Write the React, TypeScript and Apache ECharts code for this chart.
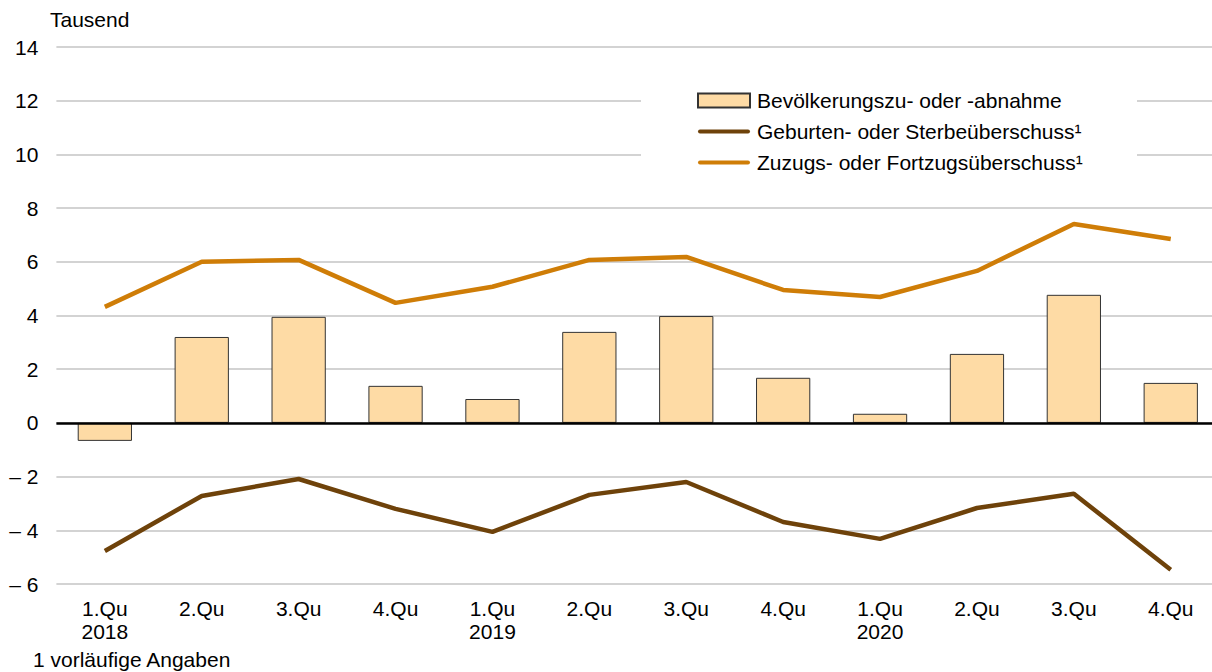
import React, { useEffect, useRef } from "react";
import * as echarts from "echarts";

const categories = [
  "1.Qu\n2018", "2.Qu", "3.Qu", "4.Qu",
  "1.Qu\n2019", "2.Qu", "3.Qu", "4.Qu",
  "1.Qu\n2020", "2.Qu", "3.Qu", "4.Qu",
];
const changeValues = [-0.67, 3.2, 3.95, 1.38, 0.89, 3.39, 3.98, 1.68, 0.34, 2.57, 4.77, 1.49];
const naturalValues = [-4.77, -2.72, -2.09, -3.2, -4.06, -2.68, -2.2, -3.69, -4.32, -3.17, -2.64, -5.47];
const migrationValues = [4.32, 6.0, 6.07, 4.47, 5.07, 6.07, 6.18, 4.95, 4.69, 5.66, 7.41, 6.85];
const seriesNames = [
  "Bevölkerungszu- oder -abnahme",
  "Geburten- oder Sterbeüberschuss¹",
  "Zuzugs- oder Fortzugsüberschuss¹",
];
const yTicks = { min: -6, max: 14, interval: 2 };
const unitLabel = "Tausend";
const footnote = "1 vorläufige Angaben";

const FONT = "Liberation Sans, Arial, sans-serif";
const FS = 21;
const LINE_ICON = "path://M2,0H50A2,2 0 0 1 50,4H2A2,2 0 0 1 2,0Z";

export default function App() {
  const ref = useRef<HTMLDivElement>(null);
  useEffect(() => {
    if (!ref.current) return;
    const chart = echarts.init(ref.current, null, { renderer: "svg" });
    chart.setOption({
      animation: false,
      textStyle: { fontFamily: FONT },
      grid: { left: 56.4, width: 1162.8, top: 47, bottom: 88, containLabel: false },
      graphic: [
        { type: "rect", z: 3, shape: { x: 641, y: 84, width: 496, height: 102 }, style: { fill: "#ffffff" } },
        { type: "text", left: 50, top: 9, style: { text: unitLabel, font: `${FS}px ${FONT}`, fill: "#000" } },
        { type: "text", left: 33, top: 649, style: { text: footnote, font: `${FS}px ${FONT}`, fill: "#000" } },
      ],
      legend: {
        z: 10,
        orient: "vertical",
        left: 692,
        top: 85,
        itemWidth: 52,
        itemHeight: 14,
        itemGap: 10,
        textStyle: { fontFamily: FONT, fontSize: FS, lineHeight: 21, color: "#000", padding: [0, 0, 0, 2] },
        data: [
          { name: seriesNames[0], icon: "rect" },
          { name: seriesNames[1], icon: LINE_ICON },
          { name: seriesNames[2], icon: LINE_ICON },
        ],
      },
      xAxis: {
        type: "category",
        data: categories,
        axisLine: { show: false, onZero: false },
        axisTick: { show: false },
        axisLabel: { color: "#000", fontSize: FS, fontFamily: FONT, lineHeight: 23, margin: 13 },
      },
      yAxis: {
        type: "value",
        min: yTicks.min,
        max: yTicks.max,
        interval: yTicks.interval,
        axisLine: { show: false },
        axisTick: { show: false },
        splitLine: { lineStyle: { color: "#c4c4c4", width: 1.5 } },
        axisLabel: {
          color: "#000",
          fontSize: FS,
          fontFamily: FONT,
          margin: 18,
          formatter: (v: number) => (v < 0 ? "\u2013 " + Math.abs(v) : String(v)),
        },
      },
      series: [
        {
          name: seriesNames[0],
          type: "bar",
          data: changeValues,
          barCategoryGap: "44%",
          itemStyle: { color: "#FEDBA5", borderColor: "#333", borderWidth: 1 },
          markLine: {
            silent: true,
            symbol: "none",
            label: { show: false },
            lineStyle: { color: "#000", width: 2.5, type: "solid" },
            data: [{ yAxis: 0 }],
          },
        },
        {
          name: seriesNames[1],
          type: "line",
          data: naturalValues,
          symbol: "none",
          showSymbol: false,
          lineStyle: { color: "#6E420A", width: 4.5 },
          itemStyle: { color: "#6E420A" },
        },
        {
          name: seriesNames[2],
          type: "line",
          data: migrationValues,
          symbol: "none",
          showSymbol: false,
          lineStyle: { color: "#CF7D07", width: 4.5 },
          itemStyle: { color: "#CF7D07" },
        },
      ],
    });
    return () => chart.dispose();
  }, []);
  return (
    <div
      ref={ref}
      style={{ position: "fixed", left: 0, top: 0, width: 1220, height: 672, background: "#fff" }}
    />
  );
}
